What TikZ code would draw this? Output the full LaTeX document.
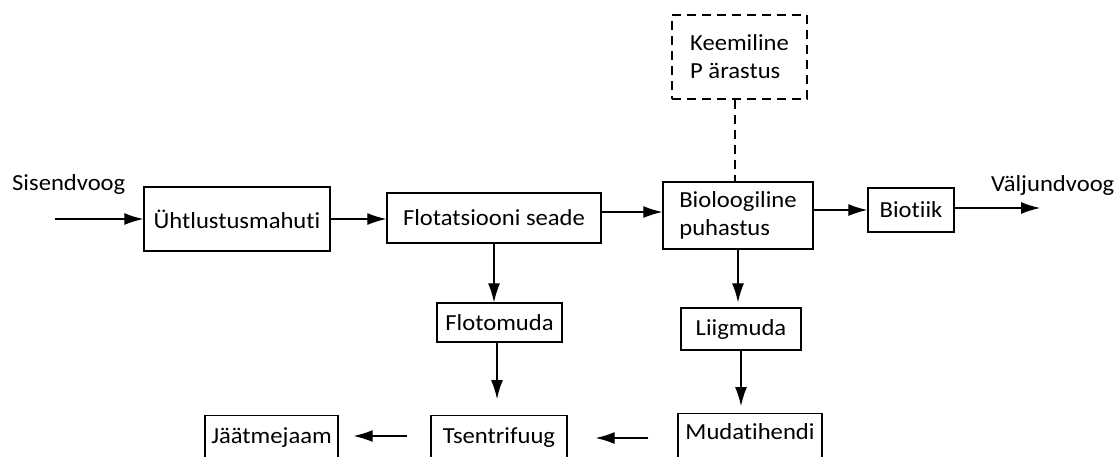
\documentclass[tikz,border=0pt]{standalone}
\usepackage{fontspec}
\setmainfont{Carlito}[FakeStretch=1.07,Ligatures={NoCommon}]
\usetikzlibrary{arrows.meta}
\begin{document}
\begin{tikzpicture}[x=1pt,y=-1pt,
  box/.style={draw,line width=1.4pt,inner sep=0pt,align=center},
  dbox/.style={box,dash pattern=on 9pt off 6pt},
  cut/.style={box,anchor=north,text depth=#1},
  arr/.style={line width=1.3pt,-{Latex[length=19pt,width=12pt]}},
  lbl/.style={inner sep=0pt,anchor=base west}]
\fontsize{23}{28}\selectfont
\useasboundingbox (0,0) rectangle (1118,456);
% boxes
\node[box,minimum width=186pt,minimum height=64pt] (U) at (237,219) {Ühtlustusmahuti};
\node[box,minimum width=214pt,minimum height=50pt] (F) at (494,218) {Flotatsiooni seade};
\node[box,minimum width=150pt,minimum height=67pt,align=left] (B) at (738,215.5) {Bioloogiline\\puhastus};
\node[dbox,minimum width=135pt,minimum height=84pt,align=left] (K) at (739.5,57) {Keemiline\\P ärastus};
\node[box,minimum width=86pt,minimum height=44pt] (T) at (911,210) {Biotiik};
\node[box,minimum width=125pt,minimum height=39pt] (Fm) at (499.5,322.5) {Flotomuda};
\node[box,minimum width=120pt,minimum height=42pt] (L) at (741,329) {Liigmuda};
\node[cut=18pt,text height=28pt,minimum width=136pt] (Ts) at (499,415) {Tsentrifuug};
\node[cut=18pt,text height=28pt,minimum width=133pt] (J) at (271.5,415) {Jäätmejaam};
\node[cut=20pt,text height=26pt,minimum width=144pt] (M) at (750,413) {Mudatihendi};
% labels
\node[lbl] (sis) at (12,190) {Sisendvoog};
\node[lbl] (val) at (991,191) {Väljundvoog};
\coordinate (in) at (55,219);
\coordinate (out) at (1040,208);
% connectors
\draw[arr] (in) -- (in -| U.west);
\draw[arr] (U.east) -- (U.east -| F.west);
\draw[arr] ([yshift=6pt]F.east) -- ([yshift=6pt]F.east -| B.west);
\draw[arr] (T.west -| B.east) -- (T.west);
\draw[arr] (T.east |- out) -- (out);
\draw[line width=1.3pt,dash pattern=on 9pt off 6pt] ([xshift=-3pt]B.north |- K.south) -- ([xshift=-3pt]B.north);
\draw[arr] (F.south) -- (F.south |- Fm.north);
\draw[arr,shorten >=16pt] ([xshift=-2.5pt]Fm.south) -- ([xshift=-2.5pt]Fm.south |- Ts.north);
\draw[arr,shorten >=5pt] (B.south) -- (B.south |- L.north);
\draw[arr,shorten >=7pt] (L.south) -- (L.south |- M.north);
\draw[arr,shorten <=29pt,shorten >=28pt] ([yshift=-25pt]M.north west) -- ([yshift=-25pt]M.north west -| Ts.east);
\draw[arr,shorten <=23pt,shorten >=15pt] ([yshift=-21pt]Ts.north west) -- ([yshift=-21pt]Ts.north west -| J.east);
\end{tikzpicture}
\end{document}
